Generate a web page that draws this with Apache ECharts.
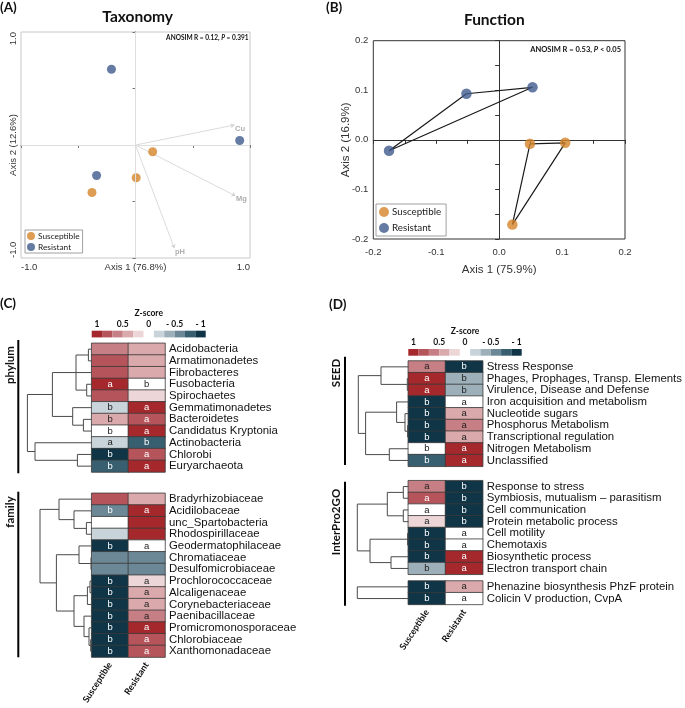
<!DOCTYPE html>
<html><head><meta charset="utf-8">
<script src="https://cdn.jsdelivr.net/npm/echarts@6/dist/echarts.min.js"></script>
<style>html,body{margin:0;padding:0;background:#fff}#c{width:685px;height:708px}</style>
</head><body><div id="c"></div>
<script>
// ================= DATA =================
const groups = ['Susceptible', 'Resistant'];

// (A) Taxonomy PCoA
const taxSuscX = [0.15, 0.006, -0.38];
const taxSuscY = [-0.06, -0.29, -0.42];
const taxResX = [-0.21, 0.91, -0.34];
const taxResY = [0.67, 0.04, -0.27];
const envVars = ['Cu', 'Mg', 'pH'];
const envX = [0.865, 0.873, 0.34];
const envY = [0.177, -0.45, -0.914];

// (B) Function PCoA
const funSuscX = [0.049, 0.105, 0.021];
const funSuscY = [-0.008, -0.006, -0.171];
const funResX = [-0.175, -0.052, 0.053];
const funResY = [-0.022, 0.093, 0.106];

// Z-score colour key
const zTickValues = [1, 0.5, 0, -0.5, -1];
const zTickLabels = ['1', '0.5', '0', '- 0.5', '- 1'];
const zKeyCells = [1, 0.8, 0.6, 0.4, 0.2, -0.2, -0.4, -0.6, -0.8, -1];

// (C) phylum
const phylumNames = ['Acidobacteria','Armatimonadetes','Fibrobacteres','Fusobacteria','Spirochaetes','Gemmatimonadetes','Bacteroidetes','Candidatus Kryptonia','Actinobacteria','Chlorobi','Euryarchaeota'];
const phylumZS = [0.6, 0.8, 0.8, 1.0, 0.8, -0.2, 0.4, 0, -0.2, -1, -0.8];
const phylumZR = [0.4, 0.4, 0.4, 0, 0.2, 1.0, 0.8, 1.0, -0.8, 0.8, 1.0];
const phylumLetS = ['','','','a','','b','b','b','a','b','b'];
const phylumLetR = ['','','','b','','a','a','a','b','a','a'];
const phylumTree = [[0,1,3.3],[3,4,5],['m0','m1',15.7],['m2',2,15.8],[6,7,8.3],[5,'m4',19],['m3','m5',39.3],[9,10,14.3],[8,'m7',56.7],['m6','m8',64.3]];

// (C) family
const familyNames = ['Bradyrhizobiaceae','Acidilobaceae','unc_Spartobacteria','Rhodospirillaceae','Geodermatophilaceae','Chromatiaceae','Desulfomicrobiaceae','Prochlorococcaceae','Alcaligenaceae','Corynebacteriaceae','Paenibacillaceae','Promicromonosporaceae','Chlorobiaceae','Xanthomonadaceae'];
const familyZS = [0.8, -0.6, 0, -0.2, -1, -0.6, -0.6, -1, -1, -1, -1, -1, -1, -1];
const familyZR = [0.4, 1.0, 1.0, 1.0, 0, -0.6, -0.6, 0.2, 0.4, 0.4, 0.6, 1.0, 0.8, 0.8];
const familyLetS = ['','b','','','b','','','b','b','b','b','b','b','b'];
const familyLetR = ['','a','','','a','','','a','a','a','a','a','a','a'];
const familyTree = [[2,3,5.3],[1,'m0',17.7],[0,'m1',32.7],[5,6,0.7],[4,'m3',12.7],[7,8,1.7],['m5',9,4.3],[12,13,1],[11,'m7',2.7],[10,'m8',7.7],['m6','m9',17.7],['m4','m10',35.3],['m2','m11',51.7]];

// (D) SEED
const seedNames = ['Stress Response','Phages, Prophages, Transp. Elements','Virulence, Disease and Defense','Iron acquisition and metabolism','Nucleotide sugars','Phosphorus Metabolism','Transcriptional regulation','Nitrogen Metabolism','Unclassified'];
const seedZS = [0.6, 1.0, 1.0, -1, -1, -1, -1, 0, -0.8];
const seedZR = [-1, -0.4, -0.4, 0, 0.4, 0.6, 0.4, 1.0, 1.0];
const seedLetS = ['a','a','a','b','b','b','b','b','b'];
const seedLetR = ['b','b','b','a','a','a','a','a','a'];
const seedTree = [[1,2,1],[0,'m0',27.3],[5,6,0.7],[4,'m2',3.3],[3,'m3',11.7],[7,8,19],['m4','m5',42.7],['m1','m6',50]];

// (D) InterPro2GO
const interNames = ['Response to stress','Symbiosis, mutualism \u2013 parasitism','Cell communication','Protein metabolic process','Cell motility','Chemotaxis','Biosynthetic process','Electron transport chain'];
const interZS = [0.6, 0.8, 0, 0.2, -1, -1, -1, -0.4];
const interZR = [-1, -1, -1, -1, 0, 0, 1.0, 1.0];
const interLetS = ['a','a','a','a','b','b','b','b'];
const interLetR = ['b','b','b','b','a','a','a','a'];
const interTree = [[0,1,5],[2,3,5],['m0','m1',21],[4,5,0.7],[6,7,17.3],['m3','m4',38.3],['m2','m5',51]];

const otherNames = ['Phenazine biosynthesis PhzF protein','Colicin V production, CvpA'];
const otherZS = [-1, -1];
const otherZR = [0.4, 0];
const otherLetS = ['b','b'];
const otherLetR = ['a','a'];
const otherTree = [[0,1,51]];

// ================= STYLE / LAYOUT =================
const ORANGE = '#D6852B', BLUE = '#3E5A8C';
const FONT = '"Liberation Sans", Arial, sans-serif';
const BFONT = 'Lato, "Open Sans", sans-serif';
const ROW = 11.7;

const grids = [], xAxes = [], yAxes = [], series = [], graphics = [], vmSeries = [];
function addGrid(g) { g.outerBoundsMode = 'none'; grids.push(g); return grids.length - 1; }

function dendroSegs(tree) {
  const nodes = [];
  const get = c => typeof c === 'number' ? {h: 0, y: c} : nodes[+String(c).slice(1)];
  const segs = [];
  tree.forEach(([a, b, h]) => {
    const A = get(a), B = get(b);
    segs.push([A.h, A.y, h, B.y, B.h]);
    nodes.push({h: h, y: (A.y + B.y) / 2});
  });
  return segs;
}
function dendroRender(params, api) {
  const p1 = api.coord([api.value(0), api.value(1)]);
  const p2 = api.coord([api.value(2), api.value(1)]);
  const p3 = api.coord([api.value(2), api.value(3)]);
  const p4 = api.coord([api.value(4), api.value(3)]);
  return {type: 'polyline', shape: {points: [p1, p2, p3, p4]}, style: {stroke: '#4a4a4a', lineWidth: 1, fill: null}};
}

// ---------- Panel A ----------
const gA = addGrid({left: 21, top: 32, width: 229, height: 226, show: true, borderColor: '#c8c8c8', borderWidth: 1});
const pm1 = v => (Math.abs(Math.abs(v) - 1) < 1e-9 ? v.toFixed(1) : '');
xAxes.push({gridIndex: gA, type: 'value', min: -1, max: 1, interval: 0.5,
  axisLine: {lineStyle: {color: '#555'}}, axisTick: {length: 3, lineStyle: {color: '#777'}}, splitLine: {show: false},
  axisLabel: {formatter: pm1, fontSize: 9.5, color: '#333', fontFamily: FONT, margin: 4, alignMinLabel: 'left', alignMaxLabel: 'right'},
  name: 'Axis 1 (76.8%)', nameLocation: 'middle', nameGap: 4, nameMoveOverlap: false,
  nameTextStyle: {fontSize: 9.5, color: '#333', fontFamily: FONT, verticalAlign: 'top'}});
yAxes.push({gridIndex: gA, type: 'value', min: -1, max: 1, interval: 0.5,
  axisLine: {lineStyle: {color: '#555'}}, axisTick: {length: 3, lineStyle: {color: '#777'}}, splitLine: {show: false},
  axisLabel: {formatter: pm1, rotate: 90, fontSize: 9.5, color: '#333', fontFamily: FONT, margin: 3, alignMinLabel: 'left', alignMaxLabel: 'right'},
  name: 'Axis 2 (12.6%)', nameLocation: 'middle', nameGap: 3, nameMoveOverlap: false,
  nameTextStyle: {fontSize: 9.5, color: '#333', fontFamily: FONT, verticalAlign: 'bottom'}});
series.push({type: 'lines', coordinateSystem: 'cartesian2d', xAxisIndex: gA, yAxisIndex: gA, silent: true,
  symbol: ['none', 'arrow'], symbolSize: 4,
  lineStyle: {color: '#d2d2d2', width: 0.8, opacity: 1},
  data: envVars.map((n, i) => ({coords: [[0, 0], [envX[i], envY[i]]]})),
  markLine: {silent: true, symbol: 'none', label: {show: false}, lineStyle: {color: '#dedede', width: 1, type: 'solid'},
    data: [{xAxis: 0}, {yAxis: 0}]}});
series.push({type: 'scatter', xAxisIndex: gA, yAxisIndex: gA, silent: true, symbolSize: 1, itemStyle: {color: 'rgba(0,0,0,0)'},
  data: envVars.map((n, i) => ({name: n, value: [envX[i], envY[i]]})),
  label: {show: true, formatter: p => p.name, position: [1, 0], fontSize: 7.5, fontWeight: 'bold', color: '#9a9a9a', fontFamily: FONT}});
series.push({type: 'scatter', name: 'Susceptible', xAxisIndex: gA, yAxisIndex: gA, symbolSize: 9, itemStyle: {color: ORANGE},
  data: taxSuscX.map((x, i) => [x, taxSuscY[i]]), z: 3});
series.push({type: 'scatter', name: 'Resistant', xAxisIndex: gA, yAxisIndex: gA, symbolSize: 9, itemStyle: {color: BLUE},
  data: taxResX.map((x, i) => [x, taxResY[i]]), z: 3});

// ---------- Panel B ----------
const gB = addGrid({left: 373.3, top: 40.7, width: 251.7, height: 198.3, show: true, borderColor: '#333', borderWidth: 1});
const tenth = v => (Math.round(v * 100) % 10 === 0 ? (Math.abs(v) < 1e-9 ? '0.0' : v.toFixed(1)) : '');
xAxes.push({gridIndex: gB, type: 'value', min: -0.2, max: 0.2, interval: 0.05,
  axisLine: {lineStyle: {color: '#333'}}, axisTick: {length: 4, lineStyle: {color: '#333'}}, splitLine: {show: false},
  axisLabel: {formatter: tenth, fontSize: 9.5, color: '#333', fontFamily: FONT, margin: 8, showMinLabel: true, showMaxLabel: true},
  name: 'Axis 1 (75.9%)', nameLocation: 'middle', nameGap: 25, nameMoveOverlap: false,
  nameTextStyle: {fontSize: 11.5, color: '#333', fontFamily: FONT, verticalAlign: 'top'}});
yAxes.push({gridIndex: gB, type: 'value', min: -0.2, max: 0.2, interval: 0.05,
  axisLine: {lineStyle: {color: '#333'}}, axisTick: {length: 4, lineStyle: {color: '#333'}}, splitLine: {show: false},
  axisLabel: {formatter: tenth, fontSize: 9.5, color: '#333', fontFamily: FONT, margin: 5},
  name: 'Axis 2 (16.9%)', nameLocation: 'middle', nameGap: 21, nameMoveOverlap: false,
  nameTextStyle: {fontSize: 11.5, color: '#333', fontFamily: FONT, verticalAlign: 'bottom'}});
function hull(xs, ys) { const p = xs.map((x, i) => [x, ys[i]]); p.push(p[0]); return p; }
series.push({type: 'line', xAxisIndex: gB, yAxisIndex: gB, silent: true, showSymbol: false, symbol: 'none',
  lineStyle: {color: '#1a1a1a', width: 1.2}, data: hull(funResX, funResY), z: 1});
series.push({type: 'line', xAxisIndex: gB, yAxisIndex: gB, silent: true, showSymbol: false, symbol: 'none',
  lineStyle: {color: '#1a1a1a', width: 1.2}, data: hull(funSuscX, funSuscY), z: 1});
series.push({type: 'scatter', name: 'Susceptible', xAxisIndex: gB, yAxisIndex: gB, symbolSize: 10.5, itemStyle: {color: ORANGE},
  data: funSuscX.map((x, i) => [x, funSuscY[i]]), z: 3});
series.push({type: 'scatter', name: 'Resistant', xAxisIndex: gB, yAxisIndex: gB, symbolSize: 10.5, itemStyle: {color: BLUE},
  data: funResX.map((x, i) => [x, funResY[i]]), z: 3});

// ---------- Colour keys ----------
function colourKey(left, top, width) {
  const g = addGrid({left: left, top: top, width: width, height: 6.7});
  xAxes.push({gridIndex: g, type: 'value', min: -1.1, max: 1.1, inverse: true, position: 'top',
    axisLine: {show: false}, axisTick: {show: false}, splitLine: {show: false},
    axisLabel: {customValues: zTickValues, formatter: v => { const k = zTickValues.findIndex(t => Math.abs(t - v) < 1e-9); return k >= 0 ? zTickLabels[k] : ''; },
      fontSize: 8.5, fontWeight: 'bold', color: '#111', fontFamily: BFONT, margin: 2},
    name: 'Z-score', nameLocation: 'middle', nameGap: 13, nameMoveOverlap: false,
    nameTextStyle: {fontSize: 8.5, fontWeight: 'bold', color: '#111', fontFamily: BFONT, verticalAlign: 'bottom'}});
  yAxes.push({gridIndex: g, type: 'value', min: 0, max: 1, show: false});
  series.push({type: 'custom', xAxisIndex: g, yAxisIndex: g, silent: true, clip: false,
    data: zKeyCells.map(z => [z, 0.5, z]),
    renderItem: (params, api) => {
      const z = api.value(0);
      const a = api.coord([z + 0.1, 1]), b = api.coord([z - 0.1, 0]);
      return {type: 'rect', shape: {x: Math.min(a[0], b[0]), y: Math.min(a[1], b[1]), width: Math.abs(a[0] - b[0]), height: Math.abs(a[1] - b[1])},
        style: {fill: api.visual('color')}};
    }});
  vmSeries.push(series.length - 1);
}
colourKey(91.7, 330.7, 114);
colourKey(408.3, 349, 113.4);

// ---------- Heatmaps + dendrograms ----------
function heatBlock(top, left, width, names, zS, zR, letS, letR, showCols, dLeft, dWidth, tree) {
  const n = names.length, h = n * ROW;
  const g = addGrid({left: left, top: top, width: width, height: h});
  xAxes.push({gridIndex: g, type: 'category', data: groups, axisLine: {show: false}, axisTick: {show: false}, splitLine: {show: false},
    axisLabel: showCols ? {interval: 0, rotate: 57, fontSize: 9, fontWeight: 'bold', color: '#111', fontFamily: BFONT, margin: 6} : {show: false}});
  yAxes.push({gridIndex: g, type: 'category', data: names, inverse: true, position: 'right',
    axisLine: {show: false}, axisTick: {show: false}, splitLine: {show: false},
    axisLabel: {interval: 0, fontSize: 11.4, color: '#111', fontFamily: FONT, margin: 4}});
  const light = z => !(z >= 0.8 || z <= -0.6);
  const data = [];
  names.forEach((nm, i) => {
    data.push({value: [0, i, zS[i]], letter: letS[i], label: {color: light(zS[i]) ? '#222' : '#fff'}});
    data.push({value: [1, i, zR[i]], letter: letR[i], label: {color: light(zR[i]) ? '#222' : '#fff'}});
  });
  series.push({type: 'heatmap', xAxisIndex: g, yAxisIndex: g, data: data, silent: true,
    label: {show: true, fontSize: 9.5, fontFamily: FONT, formatter: p => p.data.letter},
    itemStyle: {borderColor: '#3a3a3a', borderWidth: 0.8}, emphasis: {disabled: true}});
  vmSeries.push(series.length - 1);
  const dg = addGrid({left: dLeft, top: top, width: dWidth, height: h});
  xAxes.push({gridIndex: dg, type: 'value', min: 0, max: dWidth, inverse: true, show: false});
  yAxes.push({gridIndex: dg, type: 'value', min: -0.5, max: n - 0.5, inverse: true, show: false});
  series.push({type: 'custom', xAxisIndex: dg, yAxisIndex: dg, data: dendroSegs(tree), renderItem: dendroRender, silent: true, clip: false});
}
heatBlock(343.3, 91.7, 73.3, phylumNames, phylumZS, phylumZR, phylumLetS, phylumLetR, false, 21.7, 70, phylumTree);
heatBlock(493.3, 91.7, 73.3, familyNames, familyZS, familyZR, familyLetS, familyLetR, true, 21.7, 70, familyTree);
heatBlock(361, 408.3, 74.4, seedNames, seedZS, seedZR, seedLetS, seedLetR, false, 353.3, 55, seedTree);
heatBlock(480.7, 408.3, 74.4, interNames, interZS, interZR, interLetS, interLetR, false, 353.3, 55, interTree);
heatBlock(581, 408.3, 74.4, otherNames, otherZS, otherZR, otherLetS, otherLetR, true, 353.3, 55, otherTree);

// ---------- Text / decorations ----------
function txt(x, y, text, size, opts) {
  opts = opts || {};
  graphics.push({type: 'text', x: x, y: y, rotation: opts.rot || 0, silent: true,
    style: {text: text, fontSize: size, fontWeight: opts.weight || 'bold', fontFamily: opts.font || BFONT, fill: opts.fill || '#111',
      align: opts.align || 'center', verticalAlign: 'middle', rich: opts.rich}});
}
function bar(x, y1, y2) {
  graphics.push({type: 'line', silent: true, shape: {x1: x, y1: y1, x2: x, y2: y2}, style: {stroke: '#000', lineWidth: 2}});
}
txt(0, 8, '(A)', 13.5, {align: 'left'});
txt(137.7, 17, 'Taxonomy', 15.5);
txt(326, 8, '(B)', 13.5, {align: 'left'});
txt(494.3, 19.5, 'Function', 15.5);
txt(0, 304, '(C)', 13.5, {align: 'left'});
txt(329, 305, '(D)', 13.5, {align: 'left'});
txt(248.5, 37.5, 'ANOSIM R = 0.12, {i|P} = 0.391', 6.5, {align: 'right', rich: {i: {fontStyle: 'italic', fontWeight: 'bold', fontSize: 6.5, fontFamily: BFONT, fill: '#111'}}});
txt(621, 49.5, 'ANOSIM R = 0.53, {i|P} < 0.05', 7.5, {align: 'right', rich: {i: {fontStyle: 'italic', fontWeight: 'bold', fontSize: 7.5, fontFamily: BFONT, fill: '#111'}}});
txt(10, 365, 'phylum', 11.5, {rot: Math.PI / 2});
txt(10, 512, 'family', 11.5, {rot: Math.PI / 2});
txt(336, 373, 'SEED', 11.5, {rot: Math.PI / 2});
txt(336, 522, 'InterPro2GO', 11.5, {rot: Math.PI / 2});
bar(18.3, 340, 473.3);
bar(18.3, 491.7, 657.3);
bar(345, 356.7, 465);
bar(345, 481.7, 605.7);

const RED = ['#A4282C', '#B5545A', '#C67F84', '#DAA9AB', '#EDD6D7'];
const BLU = ['#C9D4DA', '#9DB0BA', '#6C8896', '#385F70', '#0F3547'];

const option = {
  animation: false,
  backgroundColor: '#fff',
  grid: grids, xAxis: xAxes, yAxis: yAxes, series: series,
  graphic: {elements: graphics},
  visualMap: {type: 'piecewise', show: false, seriesIndex: vmSeries, dimension: 2,
    pieces: [
      {gt: 0.9, color: RED[0]}, {gt: 0.7, lte: 0.9, color: RED[1]}, {gt: 0.5, lte: 0.7, color: RED[2]},
      {gt: 0.3, lte: 0.5, color: RED[3]}, {gt: 0.1, lte: 0.3, color: RED[4]}, {gte: -0.1, lte: 0.1, color: '#FFFFFF'},
      {gte: -0.3, lt: -0.1, color: BLU[0]}, {gte: -0.5, lt: -0.3, color: BLU[1]}, {gte: -0.7, lt: -0.5, color: BLU[2]},
      {gte: -0.9, lt: -0.7, color: BLU[3]}, {lt: -0.9, color: BLU[4]}]},
  legend: [
    {left: 25, top: 230, orient: 'vertical', data: groups, icon: 'circle', itemWidth: 8, itemHeight: 8, itemGap: 3,
      selectedMode: false, borderColor: '#888', borderWidth: 0.8, padding: [2, 3, 2, 2],
      textStyle: {fontSize: 8.3, color: '#222', fontFamily: BFONT, padding: [0, 0, 0, -2]}},
    {left: 376, top: 204, orient: 'vertical', data: groups, icon: 'circle', itemWidth: 10, itemHeight: 10, itemGap: 6,
      selectedMode: false, borderColor: '#888', borderWidth: 0.8, padding: [3, 5, 3, 3],
      textStyle: {fontSize: 9.8, color: '#222', fontFamily: BFONT, padding: [0, 0, 0, -2]}}
  ],
  tooltip: {show: false}
};
const chart = echarts.init(document.getElementById('c'), null, {width: 685, height: 708});
chart.setOption(option);
</script></body></html>
